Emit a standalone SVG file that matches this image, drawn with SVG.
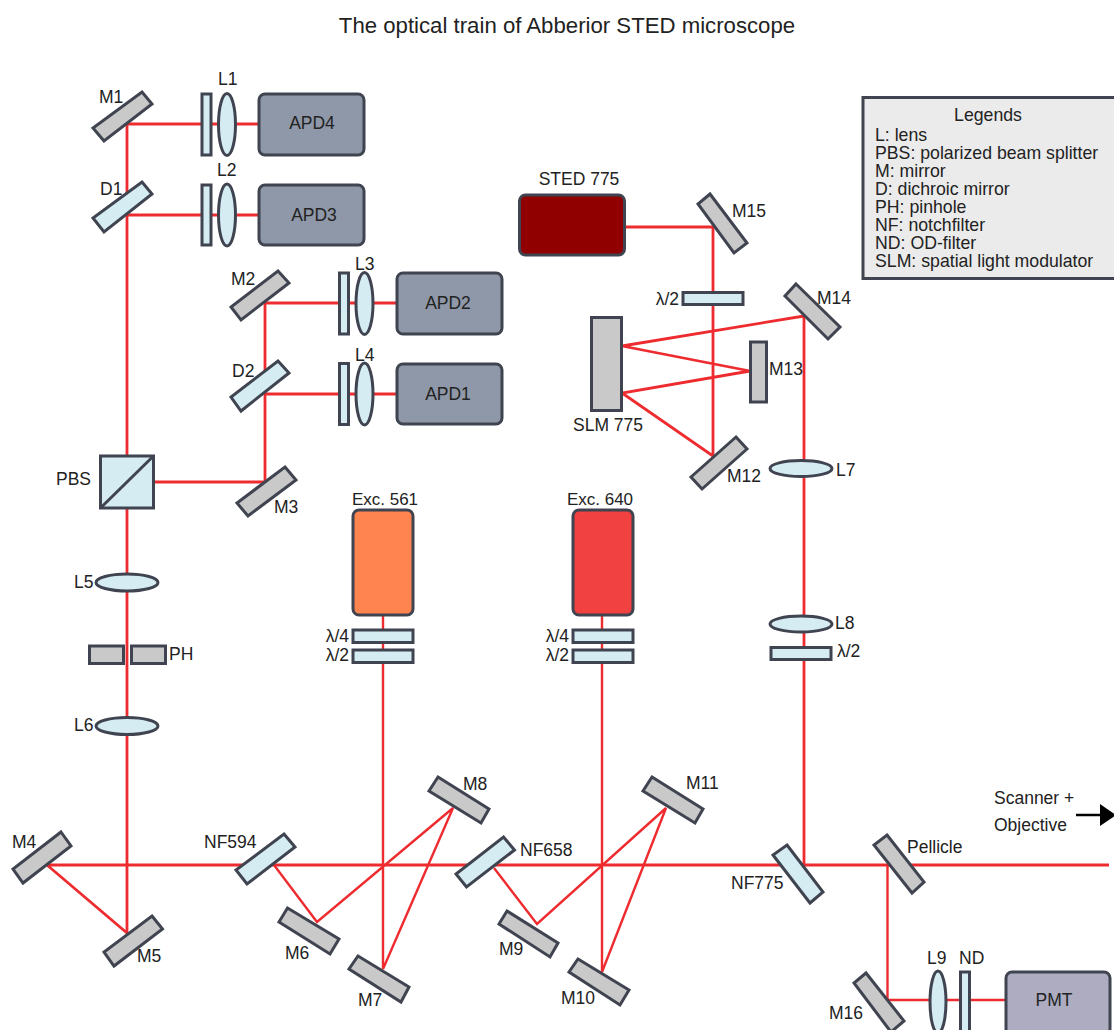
<svg xmlns="http://www.w3.org/2000/svg" width="1114" height="1030" viewBox="0 0 1114 1030">
<style>
text{font-family:"Liberation Sans",Arial,sans-serif;font-size:17.500px;fill:#222}
.m{text-anchor:middle}
.e{text-anchor:end}
.b{fill:none;stroke:#ee2c30;stroke-width:2.8;stroke-linejoin:miter}
.t{stroke-width:2.4}
.s{stroke:#3f4450;stroke-width:3;stroke-linejoin:miter}
.g{fill:#c9c9c9}
.c{fill:#d6ecf3}
.a{fill:#8f98a8;stroke:#3f4450;stroke-width:3}
#legend text{font-size:17.700px}
</style>
<rect width="1114" height="1030" fill="#fff"/>
<text x="567" y="33" class="m" style="font-size:22.200px">The optical train of Abberior STED microscope</text>
<g id="connectors">
<path class="b" d="M127 124H259M127 124V456M127 215H259"/>
<path class="b" d="M265 303H397M265 303V482M265 394H397M154 482H265"/>
<path class="b" d="M127 508V933L47 865H1109"/>
<path class="b t" d="M274 865L317 922L453 808L383 969V615"/>
<path class="b t" d="M494 868L537 924L666 808L602 972V615"/>
<path class="b" d="M625 227H713V456L622 393L750 371L622 346L804 316V865"/>
<path class="b t" d="M887.500 865V1000H1006"/>
</g>
<g id="M1"><polygon class="s g" points="142,92 152,104 104,141 93,128"/><text x="99" y="103">M1</text></g>
<g id="D1"><polygon class="s c" points="142,182 152,194 104,232 93,218"/><text x="100" y="195">D1</text></g>
<g id="L1"><rect class="s c" x="202" y="94" width="9" height="61"/><ellipse class="s c" cx="227" cy="124.500" rx="8.500" ry="31"/><text x="218" y="85">L1</text></g>
<g id="L2"><rect class="s c" x="202" y="185" width="9" height="60"/><ellipse class="s c" cx="227" cy="215" rx="8.500" ry="31"/><text x="217" y="176">L2</text></g>
<g id="APD4"><rect class="a" x="259" y="94" width="105" height="61" rx="6"/><text x="312" y="129" class="m">APD4</text></g>
<g id="APD3"><rect class="a" x="259" y="185" width="105" height="60" rx="6"/><text x="314" y="221" class="m">APD3</text></g>
<g id="M2"><polygon class="s g" points="278,271 289,283 241,320 231,307"/><text x="231" y="285">M2</text></g>
<g id="D2"><polygon class="s c" points="278,361 289,373 241,411 231,397"/><text x="232" y="377">D2</text></g>
<g id="L3"><rect class="s c" x="339.500" y="273" width="9" height="61"/><ellipse class="s c" cx="364.500" cy="303.500" rx="8.500" ry="31"/><text x="355" y="270">L3</text></g>
<g id="L4"><rect class="s c" x="339.500" y="363.500" width="9" height="61"/><ellipse class="s c" cx="364.500" cy="394" rx="8.500" ry="31"/><text x="355" y="361">L4</text></g>
<g id="APD2"><rect class="a" x="397" y="273" width="105" height="61" rx="6"/><text x="448" y="309" class="m">APD2</text></g>
<g id="APD1"><rect class="a" x="397" y="364" width="105" height="60" rx="6"/><text x="448" y="400" class="m">APD1</text></g>
<g id="PBS"><rect class="s c" x="100.500" y="456" width="53" height="52"/><path class="s" fill="none" d="M100.500 508L153.500 456"/><text x="56" y="485">PBS</text></g>
<g id="M3"><polygon class="s g" points="285,467 296,480 248,516 237,503"/><text x="274" y="513">M3</text></g>
<g id="L5"><ellipse class="s c" cx="127" cy="582.500" rx="31" ry="8.500"/><text x="74" y="588">L5</text></g>
<g id="PH"><rect class="s g" x="89.500" y="646" width="34" height="17.500"/><rect class="s g" x="131.500" y="646" width="34" height="17.500"/><text x="169" y="660">PH</text></g>
<g id="L6"><ellipse class="s c" cx="127" cy="726" rx="31" ry="8.500"/><text x="74" y="731">L6</text></g>
<g id="Exc561"><rect class="s" fill="#ff8450" x="353" y="510" width="60" height="105" rx="6"/><text x="385" y="505" class="m" style="font-size:17px">Exc. 561</text></g>
<g id="WP561a"><rect class="s c" x="353" y="630" width="60" height="12.500"/><text x="349" y="642" class="e">λ/4</text></g>
<g id="WP561b"><rect class="s c" x="353" y="650" width="60" height="12.500"/><text x="349" y="661" class="e">λ/2</text></g>
<g id="Exc640"><rect class="s" fill="#f24141" x="573" y="510" width="60" height="105" rx="6"/><text x="600" y="505" class="m" style="font-size:17px">Exc. 640</text></g>
<g id="WP640a"><rect class="s c" x="573" y="630" width="60" height="12.500"/><text x="569" y="642" class="e">λ/4</text></g>
<g id="WP640b"><rect class="s c" x="573" y="650" width="60" height="12.500"/><text x="569" y="661" class="e">λ/2</text></g>
<g id="STED775"><rect class="s" fill="#900000" x="519.500" y="195" width="105" height="60" rx="6"/><text x="579" y="185" class="m">STED 775</text></g>
<g id="M15"><polygon class="s g" points="710,194 747,243 734,253 698,204"/><text x="732" y="217">M15</text></g>
<g id="WP775a"><rect class="s c" x="683" y="292.500" width="60" height="12"/><text x="679" y="305" class="e">λ/2</text></g>
<g id="SLM775"><rect class="s g" x="591.500" y="317.500" width="30" height="93"/><text x="573" y="431">SLM 775</text></g>
<g id="M13"><rect class="s g" x="750.500" y="342" width="16" height="60"/><text x="769" y="375">M13</text></g>
<g id="M14"><polygon class="s g" points="796,284 840,327 828,339 785,296"/><text x="817" y="304">M14</text></g>
<g id="M12"><polygon class="s g" points="736,437 747,449 702,489 691,477"/><text x="727" y="482">M12</text></g>
<g id="L7"><ellipse class="s c" cx="801" cy="468.500" rx="31" ry="8"/><text x="836" y="476">L7</text></g>
<g id="L8"><ellipse class="s c" cx="801" cy="624" rx="31" ry="8"/><text x="835" y="629">L8</text></g>
<g id="WP775b"><rect class="s c" x="771" y="647.500" width="60" height="12"/><text x="837" y="657">λ/2</text></g>
<g id="M4"><polygon class="s g" points="61,832 71,846 23,883 13,869"/><text x="12" y="848">M4</text></g>
<g id="M5"><polygon class="s g" points="152,916 162.500,929 114,966 104,952"/><text x="137" y="962">M5</text></g>
<g id="NF594"><polygon class="s c" points="284,834 295,847 247,884 236,870"/><text x="204" y="848">NF594</text></g>
<g id="M6"><polygon class="s g" points="287.500,908 339,939 330,954 279,922"/><text x="285" y="959">M6</text></g>
<g id="M7"><polygon class="s g" points="358,956 409,987 401,1002 349,969"/><text x="358" y="1006">M7</text></g>
<g id="M8"><polygon class="s g" points="438,777 489,809 481,823 429,791"/><text x="463" y="790">M8</text></g>
<g id="NF658"><polygon class="s c" points="503.500,837 514.500,850 466.500,887 456,874"/><text x="520" y="856">NF658</text></g>
<g id="M9"><polygon class="s g" points="507,911 558,943 550,957 499,924"/><text x="499" y="955">M9</text></g>
<g id="M10"><polygon class="s g" points="578,959 629,990 620,1005 569,972"/><text x="561" y="1004">M10</text></g>
<g id="M11"><polygon class="s g" points="652,777 703,809 695,823 643,791"/><text x="686" y="789">M11</text></g>
<g id="NF775"><polygon class="s c" points="787,845 823,892 810,903 773,855"/><text x="731" y="889">NF775</text></g>
<g id="Pellicle"><polygon class="s g" points="887,835 924,882 912,893 874,845"/><text x="907" y="853">Pellicle</text></g>
<g id="M16"><polygon class="s g" points="866,973 904,1021 891,1032 854,983"/><text x="829" y="1019">M16</text></g>
<g id="L9"><ellipse class="s c" cx="938" cy="1002" rx="8" ry="31"/><text x="927" y="964">L9</text></g>
<g id="ND"><rect class="s c" x="960.500" y="972" width="9" height="62"/><text x="959" y="964">ND</text></g>
<g id="PMT"><rect class="s" fill="#adacc0" x="1006" y="972" width="104" height="70" rx="6"/><text x="1054" y="1006" class="m">PMT</text></g>
<g id="output"><text x="994" y="804">Scanner +</text><text x="994" y="831">Objective</text><path d="M1076 815H1102" stroke="#000" stroke-width="2.500"/><polygon points="1100,804 1116,815 1100,826" fill="#000"/></g>
<g id="legend"><rect x="863" y="97.500" width="253" height="181" fill="#ebebeb" stroke="#3f4450" stroke-width="3"/>
<text x="988" y="121" class="m">Legends</text>
<text x="875" y="140.500">L: lens</text>
<text x="875" y="158.500">PBS: polarized beam splitter</text>
<text x="875" y="176.500">M: mirror</text>
<text x="875" y="194.500">D: dichroic mirror</text>
<text x="875" y="212.500">PH: pinhole</text>
<text x="875" y="230.500">NF: notchfilter</text>
<text x="875" y="248.500">ND: OD-filter</text>
<text x="875" y="266.500">SLM: spatial light modulator</text></g>
</svg>
